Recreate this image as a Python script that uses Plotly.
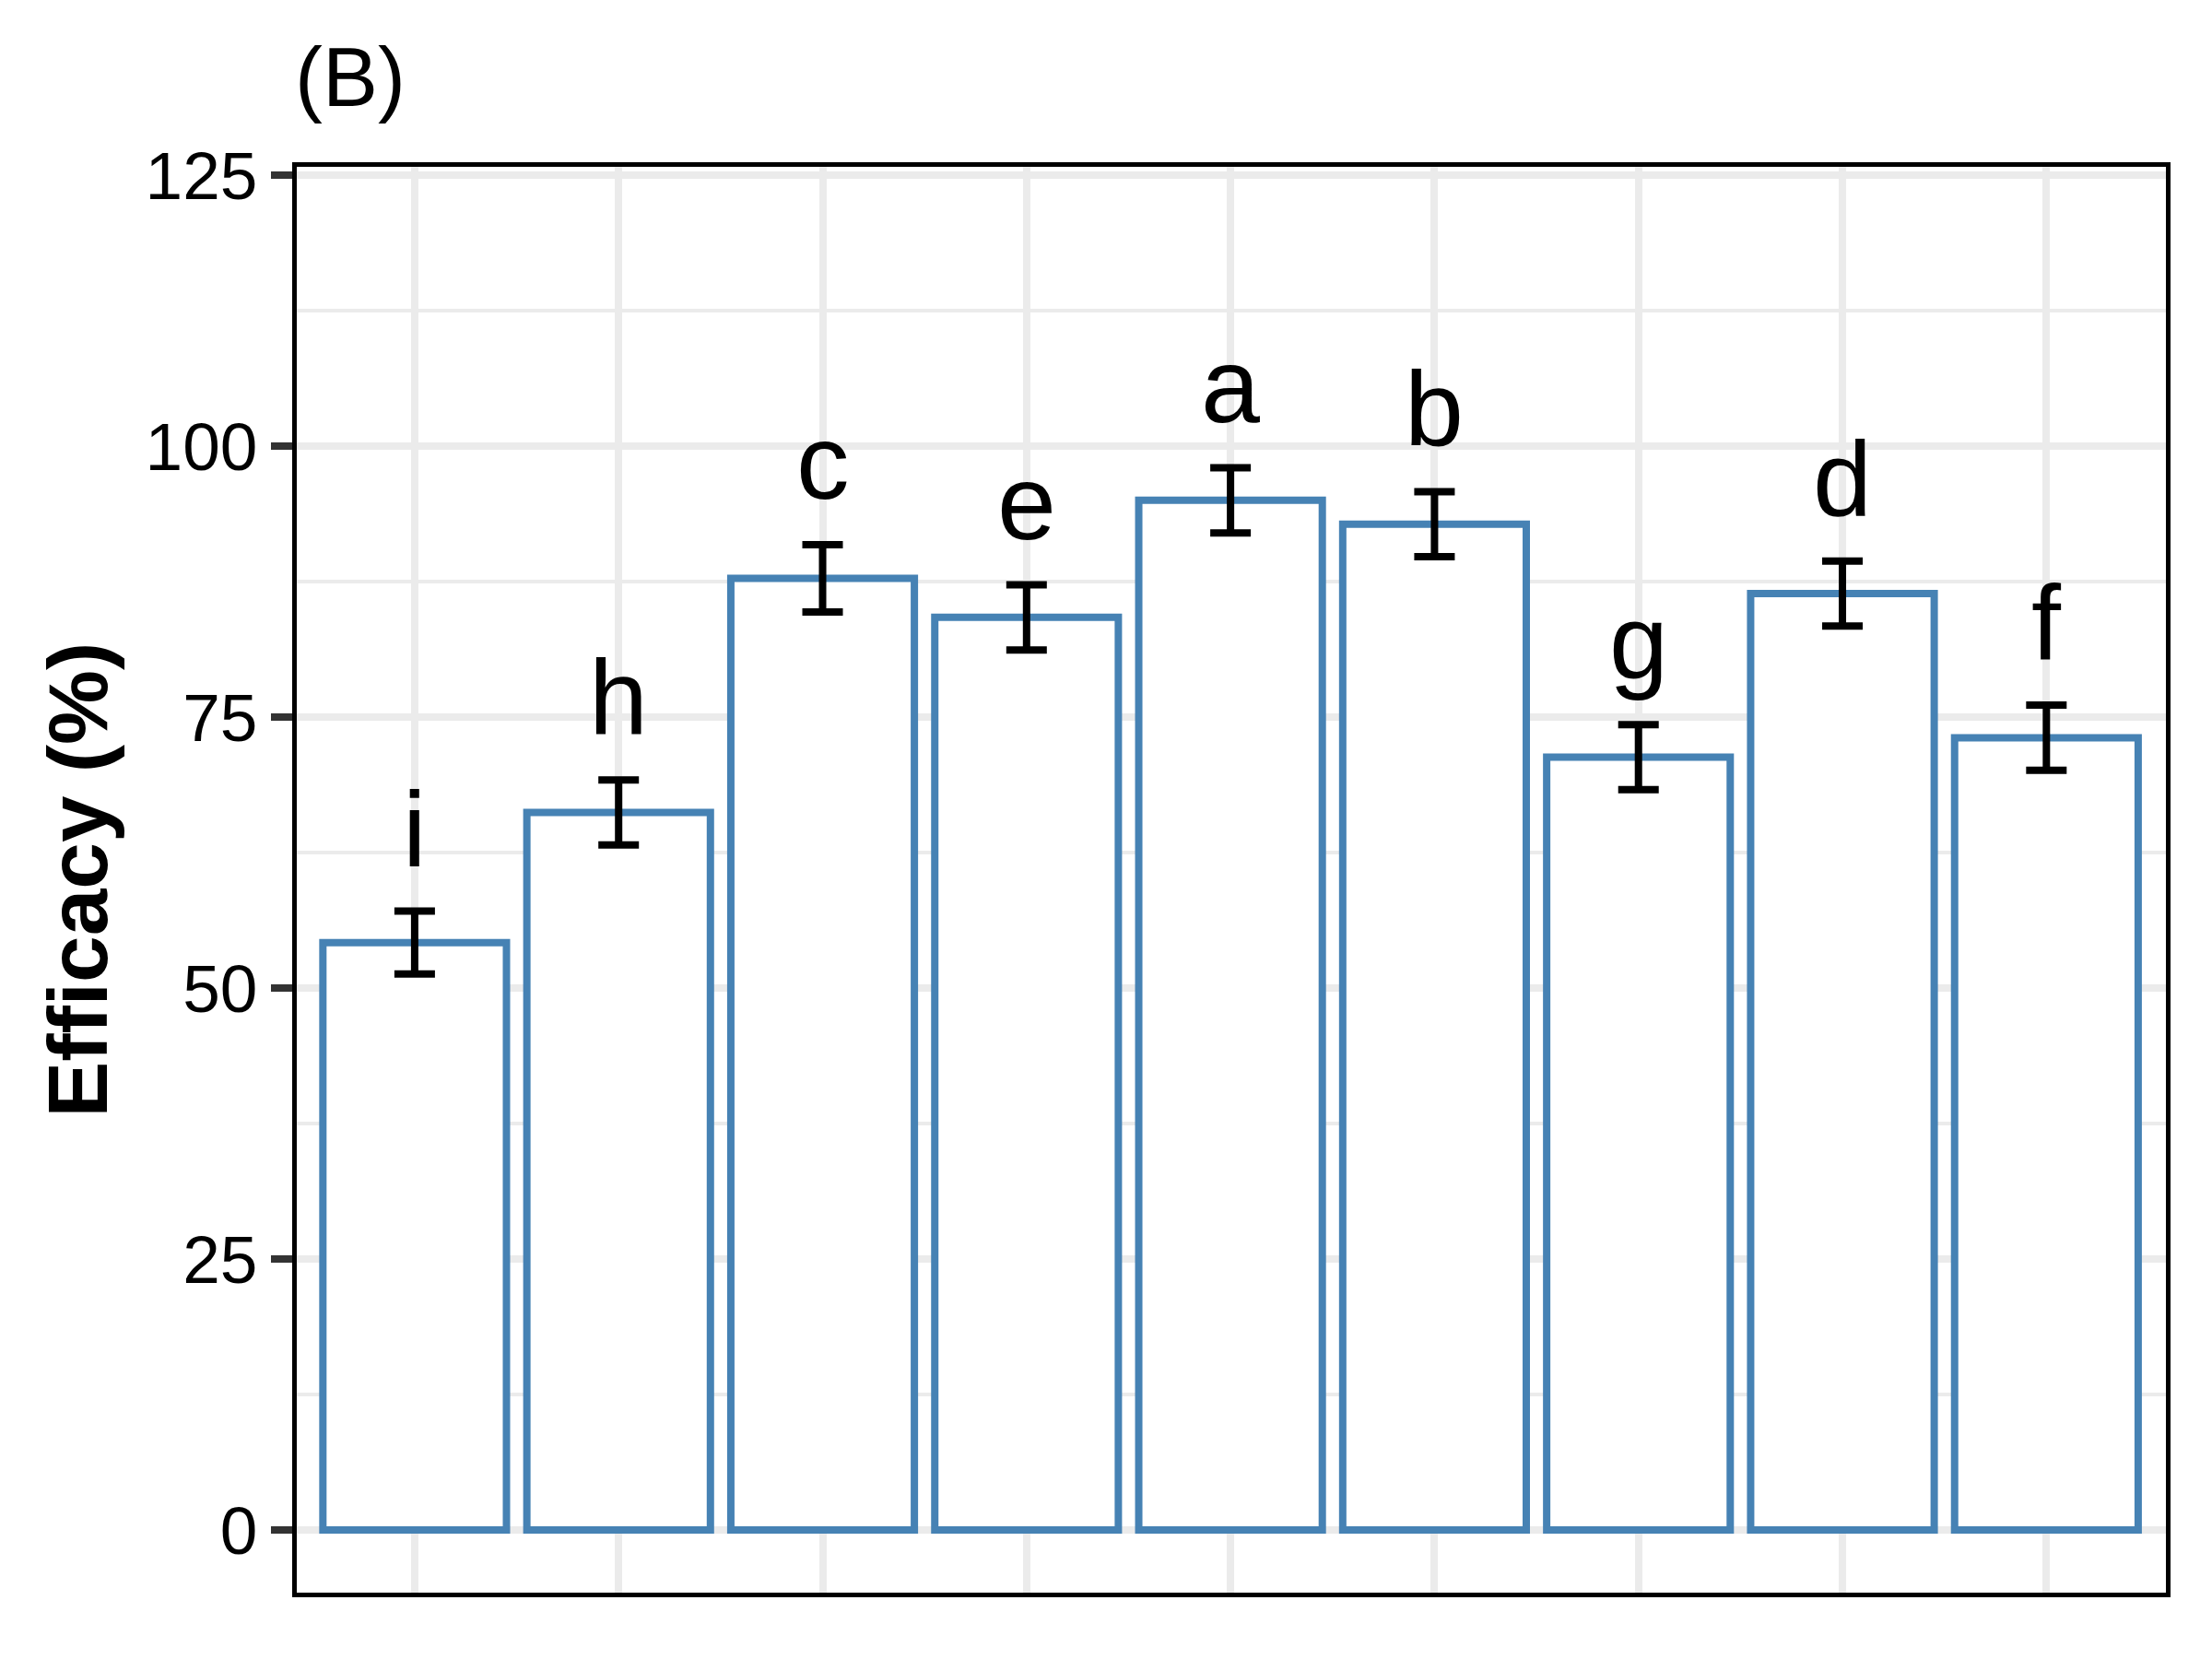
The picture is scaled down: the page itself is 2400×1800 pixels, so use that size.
import plotly.graph_objects as go

categories = ["T1", "T2", "T3", "T4", "T5", "T6", "T7", "T8", "T9"]
efficacy = [54.2, 66.2, 87.8, 84.2, 95.0, 92.8, 71.3, 86.4, 73.1]
sd = [2.9, 3.0, 3.1, 3.0, 3.0, 3.0, 3.0, 3.0, 3.0]
letters = ["i", "h", "c", "e", "a", "b", "g", "d", "f"]
y_ticks = [0, 25, 50, 75, 100, 125]

FONT = "Liberation Sans, Arial, sans-serif"

fig = go.Figure()
fig.add_trace(go.Bar(
    x=categories, y=efficacy, width=0.9,
    marker=dict(color="white", line=dict(color="#4682B4", width=8)),
    error_y=dict(type="data", array=sd, visible=True, color="black",
                 thickness=8, width=22),
    showlegend=False,
))

annotations = []
for c, v, s, l in zip(categories, efficacy, sd, letters):
    annotations.append(dict(
        x=c, y=v + s, xref="x", yref="y", text=l, showarrow=False,
        yanchor="bottom", xanchor="center", yshift=24,
        font=dict(family=FONT, size=115, color="black"),
    ))

# panel title
annotations.append(dict(
    x=-0.002, y=1.063, xref="paper", yref="paper", text="(B)", showarrow=False,
    xanchor="left", yanchor="middle",
    font=dict(family=FONT, size=90, color="black"),
))
# y-axis title
annotations.append(dict(
    x=-(322 - 84) / 2028, y=0.5, xref="paper", yref="paper",
    text="<b>Efficacy (%)</b>", showarrow=False, textangle=-90,
    xanchor="center", yanchor="middle",
    font=dict(family=FONT, size=91, color="black"),
))

fig.update_layout(
    width=2400, height=1800,
    margin=dict(l=322, r=50, t=181, b=72),
    plot_bgcolor="white", paper_bgcolor="white",
    bargap=0.1,
    annotations=annotations,
    font=dict(family=FONT, color="black"),
)

fig.update_xaxes(
    categoryorder="array", categoryarray=categories,
    range=[-0.578, 8.586],
    showticklabels=False, ticks="",
    showgrid=True, gridcolor="#EBEBEB", gridwidth=8,
    showline=True, mirror=True, linecolor="black", linewidth=5,
    zeroline=False,
)
fig.update_yaxes(
    range=[-5.78, 125.77],
    tickvals=y_ticks, ticktext=[str(t) for t in y_ticks],
    ticks="outside", ticklen=23, tickwidth=8, tickcolor="#333333",
    tickfont=dict(family=FONT, size=73, color="black"),
    showgrid=True, gridcolor="#EBEBEB", gridwidth=8,
    minor=dict(dtick=12.5, tick0=0, showgrid=True, gridcolor="#EBEBEB", gridwidth=4, ticks=""),
    showline=True, mirror=True, linecolor="black", linewidth=5,
    zeroline=False,
)

fig.write_html("out.html")
